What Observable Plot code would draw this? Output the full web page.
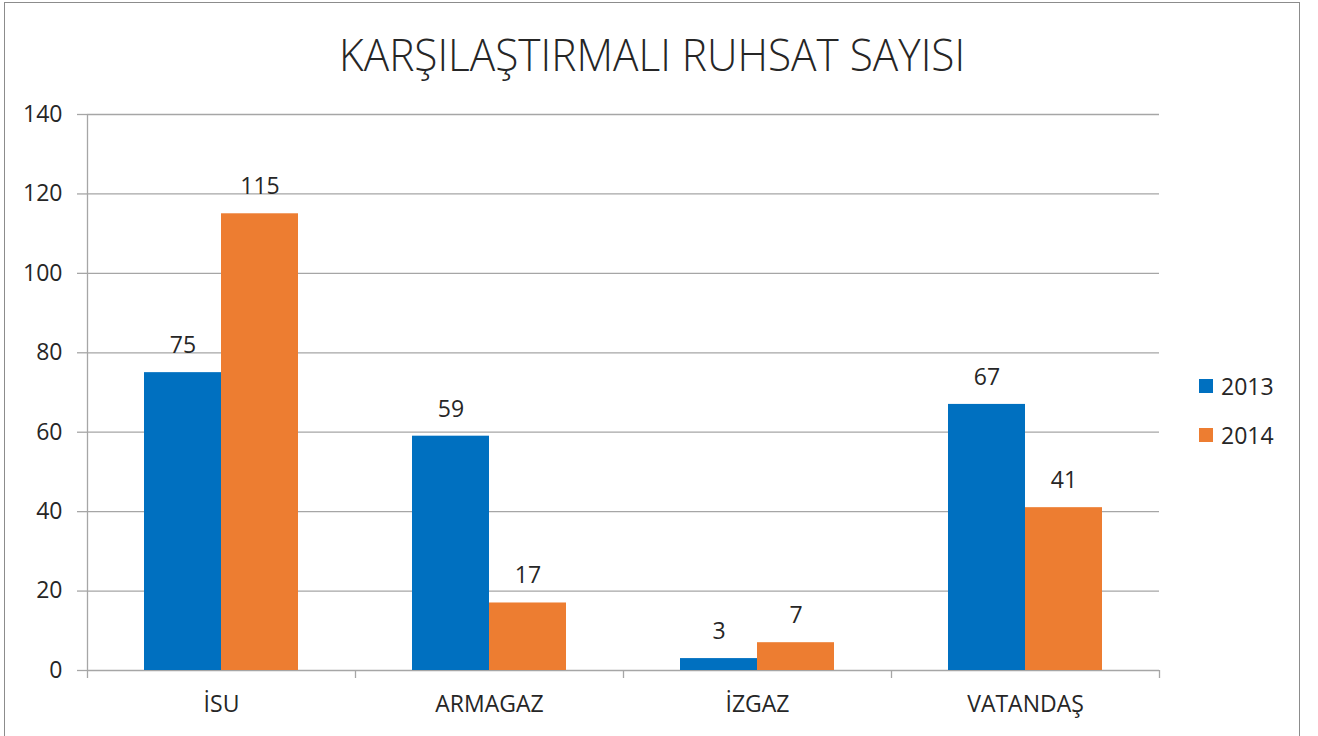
<!DOCTYPE html>
<html>
<head>
<meta charset="utf-8">
<script src="https://cdn.jsdelivr.net/npm/d3@7"></script>
<script src="https://cdn.jsdelivr.net/npm/@observablehq/plot@0.6"></script>
<style>
  html, body { margin: 0; padding: 0; background: #fff; overflow: hidden; }
  #wrap { position: relative; width: 1318px; height: 736px; font-family: "Open Sans", sans-serif; color: #262626; }
  #border { position: absolute; left: 4px; top: 2px; width: 1296px; height: 800px; border: 1.5px solid #8c8c8c; box-sizing: border-box; }
  #title { position: absolute; left: 4px; width: 1297px; top: 24px; text-align: center; font-size: 44px; font-weight: 300; white-space: nowrap; line-height: 60px; }
  #title span { display: inline-block; transform-origin: center; }
  #chart { position: absolute; left: 0; top: 0; }
  .leg { position: absolute; left: 1199px; font-size: 23px; line-height: 30px; display: flex; align-items: center; }
  .leg i { display: inline-block; width: 14px; height: 14px; margin-right: 8px; }
</style>
</head>
<body>
<div id="wrap">
  <div id="border"></div>
  <div id="title"><span>KARŞILAŞTIRMALI RUHSAT SAYISI</span></div>
  <div id="chart"></div>
  <div id="legend"></div>
</div>
<script>
const categories = ["İSU", "ARMAGAZ", "İZGAZ", "VATANDAŞ"];
const series = ["2013", "2014"];
const values2013 = [75, 59, 3, 67];
const values2014 = [115, 17, 7, 41];
const yTicks = [0, 20, 40, 60, 80, 100, 120, 140];
const colors = ["#0070C0", "#ED7D31"];

const data2013 = categories.map((c, i) => ({category: c, year: series[0], value: values2013[i]}));
const data2014 = categories.map((c, i) => ({category: c, year: series[1], value: values2014[i]}));

const W = 1318, H = 736;
const mL = 87, mR = 159, mT = 114, mB = 66;
const band = (W - mL - mR) / categories.length;
const half = band / 2;
const barW = 77;
const tickUnits = 8 * 140 / (H - mT - mB);
const grid = "#a6a6a6";
const textColor = "#262626";

const plot = Plot.plot({
  width: W,
  height: H,
  marginLeft: mL,
  marginRight: mR,
  marginTop: mT,
  marginBottom: mB,
  style: {fontFamily: "'Open Sans', sans-serif", fontSize: "23px", background: "transparent", color: textColor},
  x: {type: "band", domain: categories, padding: 0, label: null},
  y: {domain: [0, 140], label: null},
  marks: [
    Plot.ruleY(yTicks, {stroke: grid, strokeWidth: 1.3}),
    Plot.axisY({ticks: yTicks, tickSize: 10, tickPadding: 15, stroke: grid, fill: textColor, fontSize: 23, label: null, strokeWidth: 1.3}),
    // y axis line
    Plot.ruleX(categories.slice(0, 1), {x: d => d, dx: -half, y1: -tickUnits, y2: 140, stroke: grid, strokeWidth: 1.3}),
    // category boundary ticks
    Plot.ruleX(categories.slice(1), {x: d => d, dx: -half, y1: -tickUnits, y2: 0, stroke: grid, strokeWidth: 1.3}),
    Plot.ruleX(categories.slice(-1), {x: d => d, dx: half, y1: -tickUnits, y2: 0, stroke: grid, strokeWidth: 1.3}),
    Plot.barY(data2013, {x: "category", y: "value", fill: colors[0], insetLeft: half - barW, insetRight: half}),
    Plot.barY(data2014, {x: "category", y: "value", fill: colors[1], insetLeft: half, insetRight: half - barW}),
    Plot.text(data2013, {x: "category", y: "value", text: d => String(d.value), dx: -barW / 2, dy: -27, fill: textColor, fontSize: 23}),
    Plot.text(data2014, {x: "category", y: "value", text: d => String(d.value), dx: barW / 2, dy: -27, fill: textColor, fontSize: 23}),
    Plot.axisX({tickSize: 0, tickPadding: 25, fill: textColor, fontSize: 23, label: null})
  ]
});
document.getElementById("chart").appendChild(plot);

// legend
const legend = document.getElementById("legend");
const legendRows = [386, 435];
series.forEach((s, i) => {
  const el = document.createElement("div");
  el.className = "leg";
  el.style.top = (legendRows[i] - 15) + "px";
  el.innerHTML = `<i style="background:${colors[i]}"></i><span>${s}</span>`;
  legend.appendChild(el);
});

// fit title width to reference (approx 626px)
const t = document.querySelector("#title span");
const w = t.getBoundingClientRect().width;
t.style.transform = `scaleX(${626 / w})`;
</script>
</body>
</html>
